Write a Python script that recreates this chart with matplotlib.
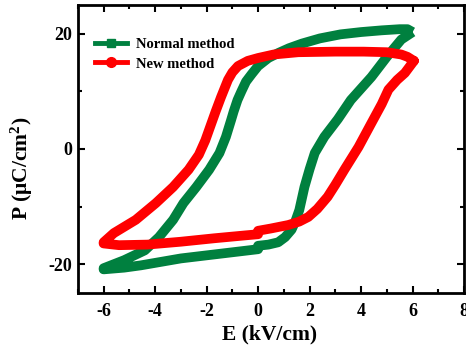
import matplotlib
matplotlib.use("Agg")
import matplotlib.pyplot as plt
from matplotlib.lines import Line2D
from matplotlib.ticker import MultipleLocator

plt.rcParams['font.family'] = 'Liberation Serif'
plt.rcParams['font.weight'] = 'bold'
plt.rcParams['mathtext.fontset'] = 'custom'
plt.rcParams['mathtext.rm'] = 'Liberation Serif:bold'
plt.rcParams['mathtext.bf'] = 'Liberation Serif:bold'
plt.rcParams['mathtext.default'] = 'bf'
plt.rcParams['axes.unicode_minus'] = False

green = '#00803F'
red = '#FF0000'

# Normal method loop: upper branch (+6 -> -6), lower branch (-6 -> +6)
normal_up_E = [6.0, 5.8, 5.5, 4.8, 4.0, 3.2, 2.4, 1.7, 1.2, 0.8, 0.4, 0.0, -0.25, -0.47,
               -0.65, -0.8, -0.95, -1.05, -1.25, -1.5, -1.9, -2.4, -2.9, -3.3, -3.85,
               -4.4, -5.2, -6.0]
normal_up_P = [20.3, 20.8, 20.8, 20.6, 20.3, 19.9, 19.2, 18.3, 17.5, 16.7, 15.8, 14.4, 13.0,
               11.7, 10.0, 8.5, 6.5, 5.0, 2.1, -0.7, -3.6, -6.6, -9.4, -12.3, -15.3,
               -17.6, -19.3, -20.7]
normal_lo_E = [-6.0, -5.2, -4.55, -3.0, -1.5, 0.0, 0.0, 0.4, 0.78, 1.05, 1.3, 1.45, 1.6,
               1.7, 1.8, 2.0, 2.2, 2.57, 3.1, 3.6, 4.4, 5.0, 5.56, 6.0]
normal_lo_P = [-20.9, -20.6, -20.2, -19.0, -18.2, -17.4, -16.8, -16.6, -16.2, -15.3, -14.0,
               -12.5, -10.6, -8.6, -6.6, -3.5, -0.7, 2.1, 5.2, 8.5, 12.5, 16.0, 19.0, 20.3]

# New method loop
new_up_E = [6.05, 5.8, 5.56, 5.0, 4.1, 3.0, 1.56, 0.6, 0.0, -0.4, -0.78, -1.0, -1.17,
            -1.44, -1.65, -1.85, -2.05, -2.3, -2.7, -3.3, -3.97, -4.75, -5.6, -6.0]
new_up_P = [15.3, 16.0, 16.4, 16.8, 16.9, 16.9, 16.8, 16.4, 15.8, 15.3, 14.4, 13.3, 12.0,
            9.0, 6.5, 4.0, 1.5, -1.0, -3.6, -6.6, -9.4, -12.3, -14.6, -16.2]
new_lo_E = [-6.0, -5.4, -4.3, -3.0, -1.7, -0.5, 0.0, 0.0, 0.5, 1.17, 1.6, 1.95, 2.3, 2.7,
            3.0, 3.35, 3.9, 4.4, 4.8, 5.06, 5.4, 5.7, 6.05]
new_lo_P = [-16.4, -16.7, -16.6, -16.1, -15.5, -15.0, -14.8, -14.2, -13.8, -13.2, -12.6,
            -11.8, -10.4, -8.3, -6.2, -3.6, 0.35, 4.5, 7.8, 10.3, 12.0, 13.2, 15.3]

fig = plt.figure(figsize=(4.66, 3.56), dpi=100)
ax = fig.add_axes([0.167, 0.177, 0.829, 0.809])

ax.plot(normal_up_E + normal_lo_E, normal_up_P + normal_lo_P, color=green, lw=7,
        solid_joinstyle='round', solid_capstyle='butt')
ax.plot(new_up_E + new_lo_E, new_up_P + new_lo_P, color=red, lw=7,
        solid_joinstyle='round', solid_capstyle='round')

ax.set_xlim(-7, 8)
ax.set_ylim(-25, 25)
ax.xaxis.set_major_locator(MultipleLocator(2))
ax.xaxis.set_minor_locator(MultipleLocator(1))
ax.yaxis.set_major_locator(MultipleLocator(20))
ax.yaxis.set_minor_locator(MultipleLocator(10))
ax.tick_params(which='both', direction='in', top=True, right=True, labelsize=13, width=1.5)
ax.tick_params(which='major', length=5)
ax.tick_params(which='minor', length=3)
ax.tick_params(axis='x', pad=7)
ax.tick_params(axis='y', pad=4)
for s in ax.spines.values():
    s.set_linewidth(2)

ax.set_xlabel('E (kV/cm)', fontsize=15.5, fontweight='bold')
ax.set_ylabel('P (μC/cm$^2$)', fontsize=15.5, fontweight='bold')
ax.xaxis.set_label_coords(0.497, -0.108)
ax.yaxis.set_label_coords(-0.11, 0.434)

handles = [Line2D([], [], color=green, lw=3.5, marker='s', ms=6),
           Line2D([], [], color=red, lw=3.5, marker='o', ms=7)]
ax.legend(handles, ['Normal method', 'New method'], loc='upper left', frameon=False,
          fontsize=10.5, handlelength=2.2, handletextpad=0.6, labelspacing=0.4,
          bbox_to_anchor=(0.01, 0.93))

fig.savefig('out.png', dpi=100)
